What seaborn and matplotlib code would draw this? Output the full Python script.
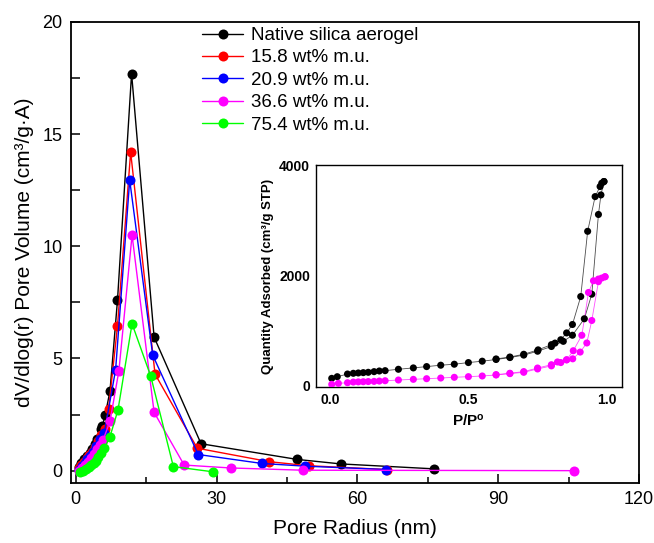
import numpy as np
import pandas as pd
import matplotlib
matplotlib.use("Agg")
import matplotlib.pyplot as plt
import seaborn as sns

# ---- pore size distribution (BJH) ----
labels = ["Native silica aerogel", "15.8 wt% m.u.", "20.9 wt% m.u.",
          "36.6 wt% m.u.", "75.4 wt% m.u."]
colors = ["#000000", "#FF0000", "#0000FF", "#FF00FF", "#00FF00"]

r_native = [0.6, 1.2, 1.8, 2.4, 3.0, 3.5, 4.1, 4.6, 5.3, 5.7, 6.3, 7.3, 8.9, 11.9, 16.7, 26.7, 47.2, 56.5, 76.4]
v_native = [0.18, 0.35, 0.5, 0.65, 0.8, 0.97, 1.2, 1.4, 1.85, 2.0, 2.5, 3.55, 7.6, 17.7, 5.95, 1.2, 0.5, 0.3, 0.08]

r_158 = [0.6, 1.1, 1.7, 2.3, 2.9, 3.5, 4.1, 4.7, 5.4, 6.2, 7.0, 8.9, 11.7, 16.9, 25.9, 41.2, 49.6, 66.3]
v_158 = [0.1, 0.25, 0.4, 0.55, 0.7, 0.85, 1.05, 1.3, 1.6, 1.85, 2.75, 6.45, 14.2, 4.3, 1.0, 0.4, 0.22, 0.05]

r_209 = [0.7, 1.3, 1.9, 2.5, 3.1, 3.7, 4.4, 5.1, 6.1, 8.5, 11.5, 16.4, 26.1, 39.7, 48.9, 66.2]
v_209 = [0.05, 0.2, 0.35, 0.5, 0.65, 0.85, 1.1, 1.4, 1.7, 4.5, 12.95, 5.15, 0.72, 0.32, 0.2, 0.05]

r_366 = [0.8, 1.4, 2.0, 2.6, 3.2, 3.9, 4.6, 5.2, 5.8, 7.3, 9.2, 12.0, 16.7, 23.1, 33.0, 48.4, 106.1]
v_366 = [0.0, 0.1, 0.25, 0.4, 0.55, 0.75, 0.95, 1.15, 1.35, 2.2, 4.45, 10.5, 2.6, 0.25, 0.12, 0.02, 0.0]

r_754 = [0.9, 1.5, 2.2, 2.8, 3.3, 3.8, 4.3, 4.8, 5.4, 6.1, 7.3, 9.0, 12.0, 16.0, 20.8, 29.2]
v_754 = [-0.07, 0.0, 0.08, 0.15, 0.25, 0.32, 0.45, 0.6, 0.8, 1.0, 1.52, 2.7, 6.55, 4.2, 0.18, -0.05]

# ---- N2 isotherms (inset) ----
p_nat_ads = [0.006, 0.026, 0.063, 0.084, 0.102, 0.12, 0.138, 0.159, 0.178, 0.199, 0.247, 0.301,
             0.349, 0.40, 0.449, 0.50, 0.55, 0.60, 0.65, 0.70, 0.75, 0.80, 0.843, 0.876,
             0.919, 0.946, 0.97, 0.979, 0.99]
q_nat_ads = [122, 152, 201, 214, 220, 226, 232, 244, 256, 262, 287, 312, 336, 361, 379, 409, 434,
             465, 500, 545, 615, 701, 795, 906, 1205, 1652, 3101, 3456, 3700]
p_nat_des = [0.99, 0.982, 0.976, 0.958, 0.931, 0.906, 0.876, 0.855, 0.834, 0.813, 0.80, 0.752,
             0.70, 0.65, 0.60]
q_nat_des = [3700, 3670, 3609, 3426, 2795, 1609, 1101, 948, 824, 763, 735, 640, 560, 510, 475]

p_366_ads = [0.006, 0.03, 0.063, 0.084, 0.102, 0.12, 0.138, 0.159, 0.178, 0.199, 0.247, 0.301,
             0.349, 0.40, 0.449, 0.50, 0.55, 0.60, 0.65, 0.70, 0.75, 0.80, 0.834, 0.855, 0.877,
             0.904, 0.928, 0.946, 0.97, 0.994]
q_366_ads = [13, 31, 43, 55, 58, 61, 64, 67, 73, 79, 92, 104, 116, 128, 141, 153, 165, 183, 208,
             232, 293, 349, 409, 459, 477, 600, 765, 1174, 1880, 1969]
p_366_des = [0.994, 0.982, 0.97, 0.952, 0.934, 0.91, 0.879, 0.855, 0.822, 0.80, 0.75, 0.70, 0.65, 0.60]
q_366_des = [1969, 1945, 1927, 1896, 1683, 905, 624, 459, 420, 370, 310, 245, 215, 190]

psd = pd.concat([
    pd.DataFrame({"r": r, "v": v, "sample": lab})
    for r, v, lab in zip([r_native, r_158, r_209, r_366, r_754],
                         [v_native, v_158, v_209, v_366, v_754], labels)
], ignore_index=True)

iso = pd.concat([
    pd.DataFrame({"p": p_nat_ads, "q": q_nat_ads, "sample": labels[0], "branch": "ads"}),
    pd.DataFrame({"p": p_nat_des, "q": q_nat_des, "sample": labels[0], "branch": "des"}),
    pd.DataFrame({"p": p_366_ads, "q": q_366_ads, "sample": labels[3], "branch": "ads"}),
    pd.DataFrame({"p": p_366_des, "q": q_366_des, "sample": labels[3], "branch": "des"}),
], ignore_index=True)
iso["unit"] = iso["sample"] + "_" + iso["branch"]

sns.set_style("ticks")
plt.rcParams["font.family"] = ["Liberation Sans", "DejaVu Sans"]
plt.rcParams["mathtext.fontset"] = "custom"
plt.rcParams["mathtext.bf"] = "Liberation Sans:bold"
plt.rcParams["mathtext.rm"] = "Liberation Sans"
for key in ["text.color", "axes.labelcolor", "xtick.color", "ytick.color", "axes.edgecolor"]:
    plt.rcParams[key] = "black"

fig = plt.figure(figsize=(6.54, 5.43), dpi=100)
ax = fig.add_axes([0.1086, 0.1105, 0.8685, 0.849])

palette = dict(zip(labels, colors))
sns.lineplot(data=psd, x="r", y="v", hue="sample", hue_order=labels, palette=palette,
             sort=False, estimator=None, marker="o", markersize=7.2, markeredgewidth=0,
             linewidth=1.0, ax=ax)

ax.set_xlim(-1, 120)
ax.set_ylim(-0.55, 20)
ax.set_xticks([0, 30, 60, 90, 120])
ax.set_xticks([15, 45, 75, 105], minor=True)
ax.set_yticks([0, 5, 10, 15, 20])
ax.set_yticks([2.5, 7.5, 12.5, 17.5], minor=True)
ax.tick_params(which="major", direction="in", length=6.5, width=1.1, labelsize=13, pad=6)
ax.tick_params(axis="x", which="minor", direction="in", length=4, width=1.1)
ax.tick_params(axis="y", which="minor", direction="in", length=6.5, width=1.1)
for s in ax.spines.values():
    s.set_linewidth(1.3)
ax.set_xlabel("Pore Radius (nm)", fontsize=15, labelpad=8)
ax.set_ylabel("dV/dlog(r) Pore Volume (cm³/g·A)", fontsize=15, labelpad=6)

leg = ax.legend(loc="upper left", bbox_to_anchor=(202 / 654, 1 - 27 / 543),
                bbox_transform=fig.transFigure, frameon=False, fontsize=13.5,
                handlelength=2.2, handletextpad=0.4, labelspacing=0.28,
                borderpad=0, borderaxespad=0)

# inset: isotherms
ins = fig.add_axes([0.4827, 0.2873, 0.4683, 0.4088])
iso_colors = {labels[0]: "#000000", labels[3]: "#FF00FF"}
sns.lineplot(data=iso, x="p", y="q", hue="sample", units="unit", palette=iso_colors,
             sort=False, estimator=None, linewidth=0.6, legend=False, ax=ins, alpha=0.7)
sns.scatterplot(data=iso, x="p", y="q", hue="sample", palette=iso_colors, s=26,
                linewidth=0, legend=False, ax=ins, zorder=3)
ins.set_xlim(-0.052, 1.055)
ins.set_ylim(-35, 4000)
ins.set_xticks([0.0, 0.5, 1.0])
ins.set_xticklabels(["0.0", "0.5", "1.0"])
ins.set_yticks([0, 2000, 4000])
ins.tick_params(direction="out", length=0, labelsize=10, pad=4)
for lab in ins.get_xticklabels() + ins.get_yticklabels():
    lab.set_fontweight("bold")
for s in ins.spines.values():
    s.set_linewidth(1.0)
ins.set_xlabel(r"$\mathbf{P/P^{o}}$", fontsize=11, labelpad=4)
ins.set_ylabel("Quantity Adsorbed (cm³/g STP)", fontsize=9.5, fontweight="bold", labelpad=4)

fig.savefig("out.png", dpi=100)
